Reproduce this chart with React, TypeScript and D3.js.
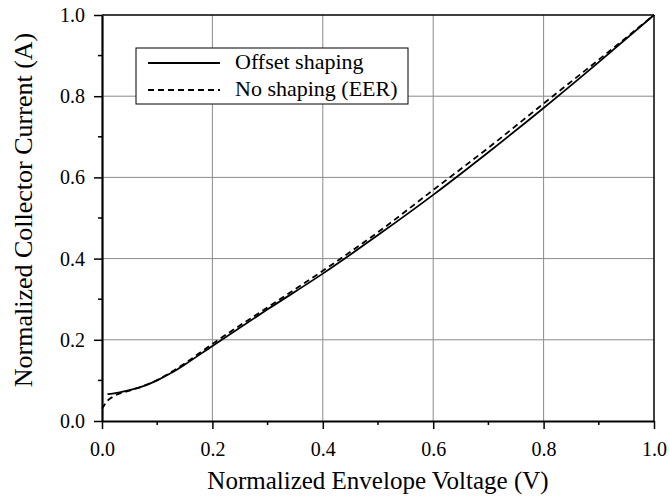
import React, { useEffect, useRef } from "react";
import * as d3 from "d3";

// Offset shaping (solid)
const offsetX = [0.01, 0.03, 0.05, 0.075, 0.1, 0.125, 0.15, 0.2, 0.3, 0.4, 0.5, 0.6, 0.7, 0.8, 0.9, 1.0];
const offsetY = [0.066, 0.07, 0.076, 0.086, 0.1, 0.118, 0.139, 0.185, 0.275, 0.363, 0.458, 0.557, 0.662, 0.771, 0.884, 1.0];

// No shaping (EER) (dashed)
const eerX = [0.0, 0.01, 0.02, 0.05, 0.075, 0.1, 0.15, 0.2, 0.3, 0.4, 0.5, 0.6, 0.7, 0.8, 0.9, 1.0];
const eerY = [0.03, 0.05, 0.06, 0.075, 0.086, 0.101, 0.142, 0.19, 0.28, 0.37, 0.465, 0.569, 0.673, 0.782, 0.89, 1.0];

const majorTicks = [0, 0.2, 0.4, 0.6, 0.8, 1.0];
const minorTicks = [0.1, 0.3, 0.5, 0.7, 0.9];

const legendLabels = ["Offset shaping", "No shaping (EER)"];

const App = () => {
  const ref = useRef<SVGSVGElement>(null);

  useEffect(() => {
    const svg = d3.select(ref.current);
    svg.selectAll("*").remove();

    const left = 102, right = 654, top = 15, bottom = 421;
    const font = '"Liberation Serif", "Times New Roman", serif';

    const x = d3.scaleLinear().domain([0, 1]).range([left, right]);
    const y = d3.scaleLinear().domain([0, 1]).range([bottom, top]);

    // grid
    const grid = svg.append("g").attr("stroke", "#8a8a8a").attr("stroke-width", 1);
    majorTicks.slice(1, -1).forEach((t) => {
      grid.append("line").attr("x1", x(t)).attr("x2", x(t)).attr("y1", top).attr("y2", bottom);
      grid.append("line").attr("x1", left).attr("x2", right).attr("y1", y(t)).attr("y2", y(t));
    });

    // curves
    const line = d3
      .line<[number, number]>()
      .x((d) => x(d[0]))
      .y((d) => y(d[1]))
      .curve(d3.curveMonotoneX);

    svg
      .append("path")
      .attr("d", line(eerX.map((v, i) => [v, eerY[i]]) as [number, number][]))
      .attr("fill", "none")
      .attr("stroke", "#000")
      .attr("stroke-width", 1.8)
      .attr("stroke-dasharray", "6,4");

    svg
      .append("path")
      .attr("d", line(offsetX.map((v, i) => [v, offsetY[i]]) as [number, number][]))
      .attr("fill", "none")
      .attr("stroke", "#000")
      .attr("stroke-width", 1.8);

    // frame
    svg.append("line").attr("x1", left).attr("x2", right).attr("y1", top).attr("y2", top)
      .attr("stroke", "#000").attr("stroke-width", 1.5);
    svg.append("line").attr("x1", right).attr("x2", right).attr("y1", top).attr("y2", bottom)
      .attr("stroke", "#000").attr("stroke-width", 1.5);

    // axes
    const xAxis = svg.append("g").attr("transform", `translate(0,${bottom})`);
    xAxis.call(d3.axisBottom(x).tickValues(majorTicks).tickSize(8).tickSizeOuter(0).tickFormat(d3.format(".1f")));
    xAxis.append("g").selectAll("line").data(minorTicks).enter().append("line")
      .attr("x1", (d) => x(d)).attr("x2", (d) => x(d)).attr("y1", 0).attr("y2", 4).attr("stroke", "#000").attr("stroke-width", 1.5);

    const yAxis = svg.append("g").attr("transform", `translate(${left},0)`);
    yAxis.call(d3.axisLeft(y).tickValues(majorTicks).tickSize(8).tickSizeOuter(0).tickFormat(d3.format(".1f")));
    yAxis.append("g").selectAll("line").data(minorTicks).enter().append("line")
      .attr("x1", 0).attr("x2", -4).attr("y1", (d) => y(d)).attr("y2", (d) => y(d)).attr("stroke", "#000").attr("stroke-width", 1.5);

    [xAxis, yAxis].forEach((g) => {
      g.attr("font-family", font).attr("font-size", 20);
      g.select(".domain").attr("stroke-width", 2.2);
      g.selectAll(".tick line").attr("stroke-width", 1.5);
      g.selectAll("text").attr("fill", "#000");
    });
    xAxis.selectAll(".tick text").attr("dy", 0).attr("y", 35);
    yAxis.selectAll(".tick text").attr("x", -17);

    // axis titles
    svg.append("text")
      .attr("x", (left + right) / 2).attr("y", 489)
      .attr("text-anchor", "middle")
      .attr("font-family", font).attr("font-size", 25)
      .text("Normalized Envelope Voltage (V)");

    svg.append("text")
      .attr("transform", `translate(32,${(top + bottom) / 2 - 8}) rotate(-90)`)
      .attr("text-anchor", "middle")
      .attr("font-family", font).attr("font-size", 26)
      .text("Normalized Collector Current (A)");

    // legend
    const legend = svg.append("g");
    legend.append("rect")
      .attr("x", 136).attr("y", 48).attr("width", 272).attr("height", 56)
      .attr("fill", "#fff").attr("stroke", "#000").attr("stroke-width", 1);
    legendLabels.forEach((label, i) => {
      const ly = 63 + i * 27;
      legend.append("line")
        .attr("x1", 148).attr("x2", 220).attr("y1", ly).attr("y2", ly)
        .attr("stroke", "#000").attr("stroke-width", 1.8)
        .attr("stroke-dasharray", i === 1 ? "6,4" : null);
      legend.append("text")
        .attr("x", 235).attr("y", ly + 6)
        .attr("font-family", font).attr("font-size", 22)
        .text(label);
    });
  }, []);

  return (
    <svg
      ref={ref}
      width={670}
      height={497}
      style={{ position: "absolute", left: 0, top: 0, background: "#fff" }}
    />
  );
};

export default App;
